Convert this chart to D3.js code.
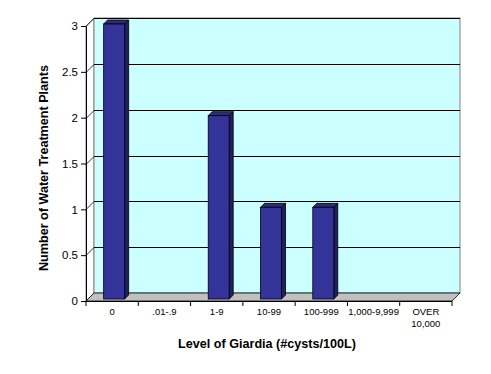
<!DOCTYPE html>
<html><head><meta charset="utf-8">
<script src="https://cdn.jsdelivr.net/npm/d3@7"></script>
<style>body{margin:0;background:#fff}svg{display:block}text{font-family:Arial,"Liberation Sans",sans-serif}</style>
</head><body>
<svg id="c" width="491" height="374"></svg>
<script>
const categories = ["0", ".01-.9", "1-9", "10-99", "100-999", "1,000-9,999", "OVER\n10,000"];
const values = [3, 0, 2, 1, 1, 0, 0];
const yTicks = [0, 0.5, 1, 1.5, 2, 2.5, 3];
const xTitle = "Level of Giardia (#cysts/100L)";
const yTitle = "Number of Water Treatment Plants";

(function () {
const svg = d3.select("#c");
const D = 8;               // depth offset of back wall
const pL = 86, pR = 452, pB = 301, pT = 26;
const x = d3.scaleBand().domain(categories).range([pL, pR]);
const y = d3.scaleLinear().domain([0, 3]).range([pB, pT]);

// left side wall
svg.append("polygon")
  .attr("points", [[pL, pB], [pL, pT], [pL + D, pT - D], [pL + D, pB - D]].join(" "))
  .attr("fill", "#ffffff").attr("stroke", "#808080").attr("stroke-width", 1);
// back wall
svg.append("rect").attr("x", pL + D).attr("y", pT - D)
  .attr("width", pR - pL).attr("height", pB - pT)
  .attr("fill", "#ccffff").attr("stroke", "#808080").attr("stroke-width", 1);
// floor
svg.append("polygon")
  .attr("points", [[pL, pB], [pR, pB], [pR + D, pB - D], [pL + D, pB - D]].join(" "))
  .attr("fill", "#c0c0c0").attr("stroke", "#000").attr("stroke-width", 0.8);

// gridlines (back wall + side wall diagonals)
const g = svg.append("g");
yTicks.filter(t => t > 0).forEach(t => {
  const yy = Math.round(y(t)) + 0.5;
  g.append("line").attr("x1", pL + D).attr("x2", pR + D)
    .attr("y1", yy - D).attr("y2", yy - D).attr("stroke", "#000").attr("stroke-width", 1);
  g.append("line").attr("x1", pL).attr("x2", pL + D)
    .attr("y1", yy).attr("y2", yy - D).attr("stroke", "#000").attr("stroke-width", 0.8);
});

// bars
const bw = 21, bd = 4, off = 2;
const bars = svg.append("g");
categories.forEach((c, i) => {
  const v = values[i];
  if (!(v > 0)) return;
  const x0 = x(c) + x.bandwidth() / 2 + off - bw / 2;
  const yb = pB - off, yt = y(v) - off;
  bars.append("polygon").attr("points", [[x0 + bw, yt], [x0 + bw + bd, yt - bd], [x0 + bw + bd, yb - bd], [x0 + bw, yb]].join(" "))
    .attr("fill", "#1f1f66").attr("stroke", "#000").attr("stroke-width", 0.8);
  bars.append("polygon").attr("points", [[x0, yt], [x0 + bd, yt - bd], [x0 + bw + bd, yt - bd], [x0 + bw, yt]].join(" "))
    .attr("fill", "#2b2b80").attr("stroke", "#000").attr("stroke-width", 0.8);
  bars.append("rect").attr("x", x0).attr("y", yt).attr("width", bw).attr("height", yb - yt)
    .attr("fill", "#333399").attr("stroke", "#000").attr("stroke-width", 0.8);
});

// y axis
const ya = svg.append("g").attr("transform", `translate(${pL},0)`)
  .call(d3.axisLeft(y).tickValues(yTicks).tickSize(5).tickPadding(3).tickFormat(d3.format("")));
ya.select(".domain").attr("stroke", "#000");
ya.selectAll("text").attr("font-size", 11.5).attr("fill", "#000");

// x axis: ticks at band boundaries, labels at centers
const xa = svg.append("g");
xa.append("line").attr("x1", pL).attr("x2", pR).attr("y1", pB + 0.5).attr("y2", pB + 0.5).attr("stroke", "#000");
categories.concat([null]).forEach(c => {
  const xx = c === null ? pR : x(c);
  xa.append("line").attr("x1", xx).attr("x2", xx).attr("y1", pB).attr("y2", pB + 5).attr("stroke", "#000");
});
categories.forEach(c => {
  const cx = x(c) + x.bandwidth() / 2;
  const t = xa.append("text").attr("x", cx).attr("y", 315)
    .attr("text-anchor", "middle").attr("font-size", 9.5).attr("fill", "#000");
  c.split("\n").forEach((line, j) => t.append("tspan").attr("x", cx).attr("dy", j ? 11.5 : 0).text(line));
});

// titles
svg.append("text").attr("x", 267).attr("y", 348).attr("text-anchor", "middle")
  .attr("font-size", 12.6).attr("font-weight", "bold").text(xTitle);
svg.append("text").attr("transform", "translate(48,168) rotate(-90)").attr("text-anchor", "middle")
  .attr("font-size", 12.6).attr("font-weight", "bold").text(yTitle);
})();
</script>
</body></html>
